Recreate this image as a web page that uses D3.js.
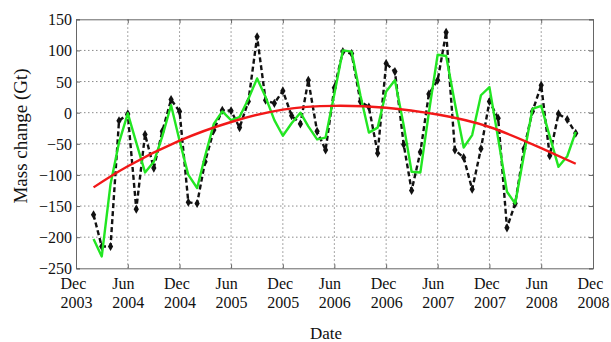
<!DOCTYPE html>
<html>
<head>
<meta charset="utf-8">
<script src="https://cdn.jsdelivr.net/npm/d3@7"></script>
<style>
  html, body { margin: 0; padding: 0; background: #fff; }
  svg { display: block; }
  text { font-family: "Liberation Serif", "Times New Roman", serif; fill: #111; }
</style>
</head>
<body>
<svg id="chart" width="611" height="342"></svg>
<script>
// Monthly mass change series (Gt)
const months = [
  "2004-02","2004-03","2004-04","2004-05","2004-06","2004-07","2004-08","2004-09","2004-10","2004-11","2004-12",
  "2005-01","2005-02","2005-03","2005-04","2005-05","2005-06","2005-07","2005-08","2005-09","2005-10","2005-11","2005-12",
  "2006-01","2006-02","2006-03","2006-04","2006-05","2006-06","2006-07","2006-08","2006-09","2006-10","2006-11","2006-12",
  "2007-01","2007-02","2007-03","2007-04","2007-05","2007-06","2007-07","2007-08","2007-09","2007-10","2007-11","2007-12",
  "2008-01","2008-02","2008-03","2008-04","2008-05","2008-06","2008-07","2008-08","2008-09","2008-10"
];

// Observed mass change (black dashed, diamonds)
const observed = [
  -164, -215, -215, -13, -2, -155, -35, -89, -30, 21, 2,
  -144, -146, -79, -28, 4, 3, -24, 18, 122, 20, 15, 35,
  -5, -18, 52, -30, -60, 40, 98, 95, 18, 9, -65, 79,
  66, -51, -125, -63, 30, 52, 129, -60, -72, -123, -58, 18,
  -9, -185, -146, -58, 2, 44, -69, -2, -11, -33
];

// Modelled mass change (green)
const modelled = [
  -203, -231, -115, -48, -1, -48, -96, -79, -38, 12, -45,
  -100, -121, -70, -18, 2, -12, -7, 22, 55, 25, -12, -37,
  -17, 0, -22, -43, -40, 30, 100, 98, 28, -32, -24, 34,
  52, -20, -95, -96, 0, 93, 91, 15, -56, -36, 28, 41,
  -42, -127, -146, -68, 6, 11, -38, -87, -70, -31
];

// Long-term trend (red)
const trendMonths = ["2004-02","2004-06","2004-12","2005-06","2005-12","2006-06","2006-12","2007-06","2007-12","2008-06","2008-10"];
const trendValues = [-120, -86, -45, -15, 5, 11, 8, -3, -23, -57, -82];

// Axis ticks
const xTickDates = ["2003-12","2004-06","2004-12","2005-06","2005-12","2006-06","2006-12","2007-06","2007-12","2008-06","2008-12"];
const xTickMonths = ["Dec","Jun","Dec","Jun","Dec","Jun","Dec","Jun","Dec","Jun","Dec"];
const xTickYears = ["2003","2004","2004","2005","2005","2006","2006","2007","2007","2008","2008"];
const yTicks = [150, 100, 50, 0, -50, -100, -150, -200, -250];

const parse = d3.timeParse("%Y-%m");
const svg = d3.select("#chart");

const plot = { left: 76, right: 593, top: 19.3, bottom: 268.3 };

const x = d3.scaleTime()
  .domain([parse("2003-12"), parse("2008-12")])
  .range([plot.left, plot.right]);
const y = d3.scaleLinear()
  .domain([-250, 150])
  .range([plot.bottom, plot.top]);

const tickDates = xTickDates.map(parse);

// Dotted grid
const grid = svg.append("g").attr("stroke", "#8a8a8a").attr("stroke-width", 1)
  .attr("stroke-dasharray", "1.5,2.5").attr("fill", "none");
tickDates.slice(1, -1).forEach(d => {
  grid.append("line").attr("x1", x(d)).attr("x2", x(d))
    .attr("y1", plot.top).attr("y2", plot.bottom);
});
yTicks.slice(1, -1).forEach(v => {
  grid.append("line").attr("x1", plot.left).attr("x2", plot.right)
    .attr("y1", y(v)).attr("y2", y(v));
});

// Axes with inward ticks
const xAxis = svg.append("g").attr("transform", `translate(0,${plot.bottom})`)
  .call(d3.axisBottom(x).tickValues(tickDates).tickSize(-4).tickFormat(""));
const xAxisTop = svg.append("g").attr("transform", `translate(0,${plot.top})`)
  .call(d3.axisTop(x).tickValues(tickDates).tickSize(-4).tickFormat(""));
const yAxis = svg.append("g").attr("transform", `translate(${plot.left},0)`)
  .call(d3.axisLeft(y).tickValues(yTicks).tickSize(-4).tickPadding(4)
    .tickFormat(d => d3.format("d")(d)));
const yAxisRight = svg.append("g").attr("transform", `translate(${plot.right},0)`)
  .call(d3.axisRight(y).tickValues(yTicks).tickSize(-4).tickFormat(""));

[xAxis, xAxisTop, yAxis, yAxisRight].forEach(g => {
  g.select(".domain").attr("stroke", "#666");
  g.selectAll(".tick line").attr("stroke", "#666");
});
yAxis.selectAll(".tick text")
  .attr("font-size", 16).attr("fill", "#111")
  .attr("font-family", "Liberation Serif, Times New Roman, serif")
  .attr("dy", "0.34em");

// Two-line date labels, month left-aligned over the centred year
xAxis.selectAll(".tick").each(function(d, i) {
  const g = d3.select(this);
  const yr = g.append("text").attr("font-size", 16).attr("fill", "#111")
    .attr("text-anchor", "start").attr("y", 40).text(xTickYears[i]);
  const w = yr.node().getComputedTextLength();
  yr.attr("x", -w / 2);
  g.append("text").attr("font-size", 16).attr("fill", "#111")
    .attr("text-anchor", "start").attr("x", -w / 2).attr("y", 21).text(xTickMonths[i]);
});

// Axis titles
svg.append("text").attr("x", 326).attr("y", 339).attr("text-anchor", "middle")
  .attr("font-size", 17).text("Date");
svg.append("text").attr("transform", "translate(27,136) rotate(-90)")
  .attr("text-anchor", "middle").attr("font-size", 19).text("Mass change (Gt)");

// Series
const obsData = months.map((m, i) => ({ date: parse(m), value: observed[i] }));
const modData = months.map((m, i) => ({ date: parse(m), value: modelled[i] }));
const trendData = trendMonths.map((m, i) => ({ date: parse(m), value: trendValues[i] }));

const line = d3.line().x(d => x(d.date)).y(d => y(d.value));

svg.append("path").datum(obsData)
  .attr("fill", "none").attr("stroke", "#111").attr("stroke-width", 2.4)
  .attr("stroke-dasharray", "5,3").attr("d", line);
svg.append("g").selectAll("path").data(obsData).join("path")
  .attr("transform", d => `translate(${x(d.date)},${y(d.value)})`)
  .attr("d", d3.symbol(d3.symbolDiamond).size(24))
  .attr("fill", "#111");

svg.append("path").datum(modData)
  .attr("fill", "none").attr("stroke", "#22e622").attr("stroke-width", 2.4)
  .attr("stroke-linejoin", "round").attr("d", line);

svg.append("path").datum(trendData)
  .attr("fill", "none").attr("stroke", "#f21818").attr("stroke-width", 2.4)
  .attr("d", d3.line().x(d => x(d.date)).y(d => y(d.value)).curve(d3.curveNatural));
</script>
</body>
</html>
